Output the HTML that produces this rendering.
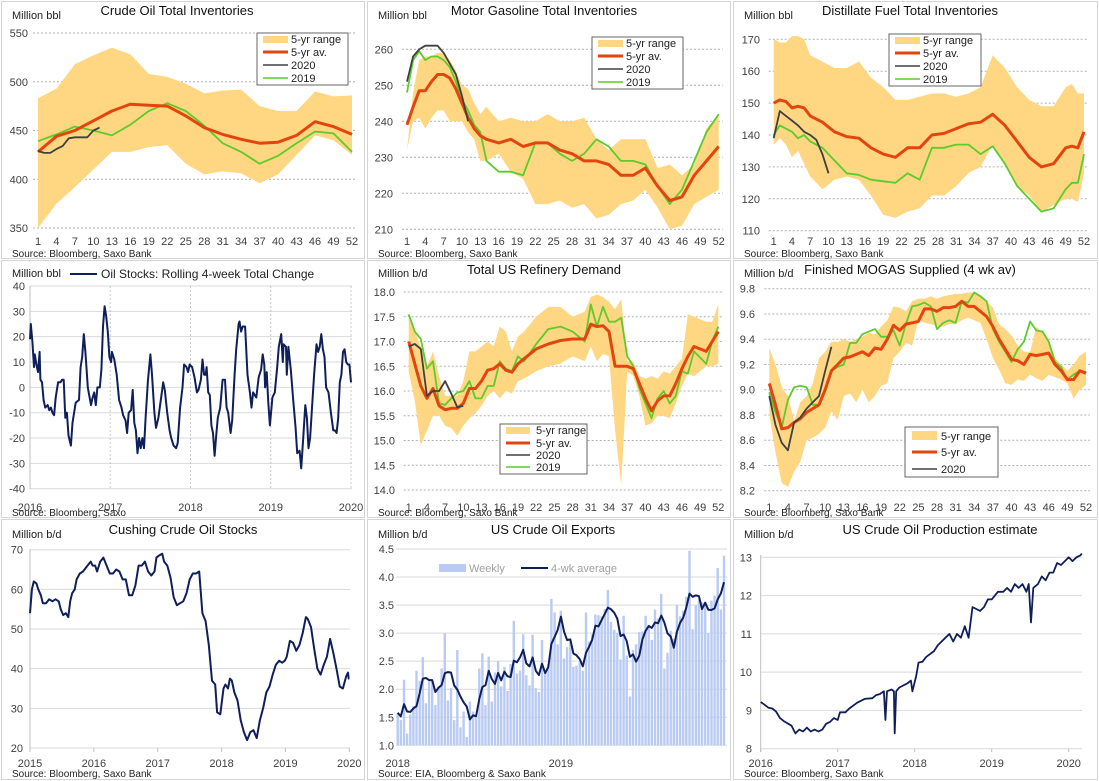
<!DOCTYPE html>
<html><head><meta charset="utf-8"><style>
html,body{margin:0;padding:0;background:#fff}
svg{display:block;font-family:"Liberation Sans",sans-serif}
.t{font-size:13px;fill:#111;text-anchor:middle}
.u{font-size:11px;fill:#222}
.s{font-size:10px;fill:#222}
.lg{font-size:11px;fill:#222}
</style></head><body>
<svg id="c" width="1099" height="781" viewBox="0 0 1099 781">
<rect x="0" y="0" width="1099" height="781" fill="#fff"/>
<g fill="none" stroke="#d4d4d4" stroke-width="1">
<rect x="1.5" y="1.5" width="363" height="257"/>
<rect x="367.5" y="1.5" width="363" height="257"/>
<rect x="733.5" y="1.5" width="364" height="257"/>
<rect x="1.5" y="260.5" width="363" height="257"/>
<rect x="367.5" y="260.5" width="363" height="257"/>
<rect x="733.5" y="260.5" width="364" height="257"/>
<rect x="1.5" y="519.5" width="363" height="260"/>
<rect x="367.5" y="519.5" width="363" height="260"/>
<rect x="733.5" y="519.5" width="364" height="260"/>
</g>
<g id="marks"></g>
<text class="t" x="177" y="15">Crude Oil Total Inventories</text>
<text class="t" x="544" y="15">Motor Gasoline Total Inventories</text>
<text class="t" x="910" y="15">Distillate Fuel Total Inventories</text>
<text class="t" x="544" y="274">Total US Refinery Demand</text>
<text class="t" x="910" y="274">Finished MOGAS Supplied (4 wk av)</text>
<text class="t" x="183" y="534">Cushing Crude Oil Stocks</text>
<text class="t" x="553" y="534">US Crude Oil Exports</text>
<text class="t" x="940" y="534">US Crude Oil Production estimate</text>
<text class="u" x="12" y="19">Million bbl</text>
<text class="u" x="378" y="19">Million bbl</text>
<text class="u" x="744" y="19">Million bbl</text>
<text class="u" x="12" y="277">Million bbl</text>
<text class="u" x="378" y="277">Million b/d</text>
<text class="u" x="744" y="277">Million b/d</text>
<text class="u" x="12" y="538">Million b/d</text>
<text class="u" x="378" y="538">Million  b/d</text>
<text class="u" x="744" y="538">Million b/d</text>
<text class="s" x="12" y="257">Source: Bloomberg, Saxo Bank</text>
<text class="s" x="378" y="257">Source: Bloomberg, Saxo Bank</text>
<text class="s" x="744" y="257">Source: Bloomberg, Saxo Bank</text>
<text class="s" x="12" y="516">Source: Bloomberg, Saxo</text>
<text class="s" x="378" y="516">Source: Bloomberg, Saxo Bank</text>
<text class="s" x="744" y="516">Source: Bloomberg, Saxo Bank</text>
<text class="s" x="12" y="777">Source: Bloomberg, Saxo Bank</text>
<text class="s" x="378" y="777">Source: EIA, Bloomberg &amp; Saxo Bank</text>
<text class="s" x="744" y="777">Source: Bloomberg, Saxo Bank</text>

<g>
<rect x="257" y="33" width="91" height="52" fill="#fff" stroke="#666"/>
<rect x="263" y="36" width="25" height="7" fill="#ffd681"/>
<line x1="263" y1="52" x2="288" y2="52" stroke="#e2450f" stroke-width="3"/>
<line x1="263" y1="65" x2="288" y2="65" stroke="#404040" stroke-width="1.6"/>
<line x1="263" y1="78" x2="288" y2="78" stroke="#5ccc2c" stroke-width="1.6"/>
<text class="lg" x="291" y="43">5-yr range</text>
<text class="lg" x="291" y="56">5-yr av.</text>
<text class="lg" x="291" y="69">2020</text>
<text class="lg" x="291" y="82">2019</text>
</g>
<g>
<rect x="592" y="37" width="91" height="52" fill="#fff" stroke="#666"/>
<rect x="598" y="40" width="25" height="7" fill="#ffd681"/>
<line x1="598" y1="56" x2="623" y2="56" stroke="#e2450f" stroke-width="3"/>
<line x1="598" y1="69" x2="623" y2="69" stroke="#404040" stroke-width="1.6"/>
<line x1="598" y1="82" x2="623" y2="82" stroke="#5ccc2c" stroke-width="1.6"/>
<text class="lg" x="626" y="47">5-yr range</text>
<text class="lg" x="626" y="60">5-yr av.</text>
<text class="lg" x="626" y="73">2020</text>
<text class="lg" x="626" y="86">2019</text>
</g>
<g>
<rect x="889" y="34" width="92" height="52" fill="#fff" stroke="#666"/>
<rect x="895" y="37" width="25" height="7" fill="#ffd681"/>
<line x1="895" y1="53" x2="920" y2="53" stroke="#e2450f" stroke-width="3"/>
<line x1="895" y1="66" x2="920" y2="66" stroke="#404040" stroke-width="1.6"/>
<line x1="895" y1="79" x2="920" y2="79" stroke="#5ccc2c" stroke-width="1.6"/>
<text class="lg" x="923" y="44">5-yr range</text>
<text class="lg" x="923" y="57">5-yr av.</text>
<text class="lg" x="923" y="70">2020</text>
<text class="lg" x="923" y="83">2019</text>
</g>
<g>
<rect x="500" y="424" width="87" height="50" fill="#fff" stroke="#666"/>
<rect x="506" y="427" width="24" height="7" fill="#ffd681"/>
<line x1="506" y1="443" x2="530" y2="443" stroke="#e2450f" stroke-width="3"/>
<line x1="506" y1="455" x2="530" y2="455" stroke="#404040" stroke-width="1.6"/>
<line x1="506" y1="467" x2="530" y2="467" stroke="#5ccc2c" stroke-width="1.6"/>
<text class="lg" x="536" y="434">5-yr range</text>
<text class="lg" x="536" y="447">5-yr av.</text>
<text class="lg" x="536" y="459">2020</text>
<text class="lg" x="536" y="471">2019</text>
</g>
<g>
<rect x="905" y="427" width="93" height="50" fill="#fff" stroke="#666"/>
<rect x="912" y="431" width="25" height="9" fill="#ffd681"/>
<line x1="912" y1="452" x2="937" y2="452" stroke="#e2450f" stroke-width="3"/>
<line x1="912" y1="469" x2="937" y2="469" stroke="#404040" stroke-width="1.6"/>
<text class="lg" x="941" y="440">5-yr range</text>
<text class="lg" x="941" y="456">5-yr av.</text>
<text class="lg" x="941" y="473">2020</text>
</g>
<g>
<line x1="70" y1="274" x2="97" y2="274" stroke="#0f1f5a" stroke-width="2"/>
<text class="lg" x="101" y="278" style="font-size:12px">Oil Stocks: Rolling 4-week Total Change</text>
</g>
<g>
<rect x="439" y="564" width="27" height="8" fill="#b9cbf2"/>
<text class="lg" x="469" y="572" style="fill:#a0a0a0">Weekly</text>
<line x1="521" y1="568" x2="548" y2="568" stroke="#0f1f5a" stroke-width="2"/>
<text class="lg" x="551" y="572" style="fill:#a0a0a0">4-wk average</text>
</g>
</svg>
<script>
// ---------- DATA ----------
const crudeWeeks=[1,4,7,10,13,16,19,22,25,28,31,34,37,40,43,46,49,52];
const crudeUpper=[483,493,518,527,535,528,508,505,498,488,491,492,475,470,470,490,485,486];
const crudeLower=[350,375,392,410,428,428,433,435,416,405,408,406,396,405,425,445,440,425];
const crudeAvg=[428,444,450,460,470,477,476,475,465,453,446,441,437,438,445,459,454,446];
const crude2019=[439,446,454,450,445,456,470,478,470,455,437,428,416,424,437,449,447,428];
const crude2020=[429,427,427,431,434,442,443,443,443,450,453];

const gasWeeks=[1,2,3,4,5,6,7,8,9,10,11,12,13,14,16,18,20,22,24,26,28,30,32,34,36,38,40,42,44,46,48,50,52];
const gasUpper=[232,248,257,258,258,259,259,257,254,250,249,245,242,244,240,241,240,240,242,240,240,241,235,232,235,235,235,227,228,225,228,238,242];
const gasLower=[232,240,241,238,241,243,243,240,240,240,237,235,229,229,231,226,224,217,217,218,216,217,213,214,217,218,221,216,210,211,217,219,221];
const gasAvg=[239,244,248.5,248.5,251,253,253,252,249,245,241,238,236,235,234,235,233,234,234,232,231,229,229,228,225,225,227,222,218,219,225,229,233];
const gas2019=[248,257,259.5,257,258,258,257,255,251,246,243,239,237,229,226,226,225,234,234,231,229,231,235,233,229,229,228,222,217,221,229,237,242];
const gas2020=[251,258,260,261,261,261,259,256,253,247,240];

const distWeeks=[1,2,3,4,5,6,7,9,11,13,15,17,19,21,23,25,27,29,31,33,35,37,39,41,43,45,47,49,50,51,52];
const distUpper=[170,169,169,171,171,170,165,163,161,161,163,158,155,151,151,152,153,153,152,153,155,165,161,155,151,149,149,155,156,153,153];
const distLower=[137,139,137,133,135,131,127,123,126,127,126,121,115,114,116,117,121,121,124,128,130,137,131,124,121,116,118,120,120,119,128];
const distAvg=[150,151,150.5,148.5,149,148.5,146,144,141,139.5,139,136,134,133,136,136,140,140.5,142,143.5,144,146.5,143,138,133,130,131,136,136.5,136,141];
const dist2019=[140,143,142,141,139,140,138,136,132,128,127.5,126,125.5,125,128,126,136,136,137,137,134,136.5,131,124,120,116,117,123,125,125,134];
const dist2020=[139,147.5,146,144.5,143,141,140,138.5,134,128];

const refWeeks=[1,2,3,4,5,6,7,8,9,10,11,12,13,14,15,16,17,18,19,20,22,24,26,28,30,31,32,33,34,35,36,37,38,39,40,41,42,43,44,45,46,47,48,50,51,52];
const refUpper=[17.5,17.2,16.9,16.5,16.8,16.3,15.9,15.9,15.9,16.2,16.8,16.8,16.9,17.0,16.9,17.3,17.2,16.8,17.1,17.2,17.5,17.7,17.7,17.5,17.6,17.9,17.95,17.9,17.8,17.65,17.85,16.6,16.6,16.3,16.25,16.3,16.25,16.4,16.35,16.5,16.65,17.55,17.5,17.4,17.4,17.75];
const refLower=[16.4,15.8,14.9,15.2,15.5,15.5,15.3,15.25,15.1,15.3,15.45,15.55,15.7,15.9,16.0,15.85,16.0,15.95,16.2,16.25,16.4,16.5,16.55,16.7,16.6,16.9,16.6,16.75,16.7,15.2,14.1,16.4,16.3,15.9,15.3,15.35,15.5,15.5,15.45,15.75,16.1,16.35,16.3,16.5,16.5,16.55];
const refAvg=[17.0,16.55,16.1,15.85,16.05,15.7,15.62,15.65,15.65,15.75,16.05,16.05,16.2,16.42,16.45,16.55,16.42,16.38,16.55,16.65,16.85,16.95,17.02,17.05,17.05,17.35,17.3,17.32,17.2,16.5,16.5,16.5,16.45,16.15,15.85,15.6,15.8,15.9,15.9,16.15,16.45,16.7,16.9,16.8,17.0,17.2];
const ref2019=[17.55,17.2,17.05,16.45,16.6,15.75,15.72,15.85,15.97,16.0,16.2,15.85,15.85,16.1,16.1,16.6,16.45,16.4,16.7,16.6,16.95,17.25,17.3,17.2,17.0,17.75,17.3,17.7,17.4,17.4,17.48,16.7,16.5,16.05,15.75,15.45,15.85,16.0,15.75,15.9,16.4,16.35,16.8,16.55,17.0,17.3];
const ref2020=[16.9,16.95,16.85,15.9,16.0,16.0,16.2,15.95,15.67,15.7];

const mogUpper=[9.33,9.2,9.02,8.95,8.75,8.9,8.95,9.05,9.25,9.3,9.38,9.38,9.4,9.38,9.4,9.42,9.45,9.44,9.5,9.55,9.66,9.65,9.62,9.7,9.72,9.72,9.74,9.72,9.74,9.75,9.76,9.76,9.77,9.77,9.75,9.7,9.65,9.52,9.48,9.43,9.35,9.3,9.3,9.5,9.45,9.4,9.25,9.2,9.15,9.2,9.27,9.3];
const mogLower=[8.8,8.5,8.26,8.23,8.35,8.43,8.6,8.62,8.65,8.7,8.83,8.76,8.95,8.97,8.9,9.0,8.9,8.95,9.03,9.05,9.25,9.3,9.37,9.35,9.55,9.53,9.52,9.5,9.5,9.52,9.52,9.55,9.57,9.55,9.53,9.4,9.25,9.16,9.05,9.04,9.08,9.07,9.12,9.09,9.07,9.12,9.1,9.08,9.05,8.93,9.0,9.04];
const mogAvg=[9.05,8.88,8.69,8.7,8.74,8.77,8.82,8.85,8.88,9.0,9.15,9.2,9.25,9.26,9.28,9.3,9.27,9.33,9.32,9.4,9.51,9.47,9.52,9.53,9.54,9.64,9.64,9.62,9.65,9.65,9.66,9.7,9.66,9.66,9.62,9.58,9.5,9.4,9.32,9.24,9.23,9.2,9.28,9.27,9.28,9.29,9.2,9.15,9.08,9.08,9.15,9.13];
const mog2019=[8.98,8.82,8.7,8.92,9.02,9.03,9.02,8.88,8.88,9.0,9.15,9.18,9.2,9.37,9.37,9.44,9.46,9.48,9.42,9.42,9.47,9.35,9.52,9.66,9.67,9.69,9.66,9.48,9.53,9.55,9.53,9.7,9.69,9.77,9.74,9.7,9.48,9.38,9.3,9.22,9.32,9.38,9.54,9.47,9.46,9.38,9.22,9.18,9.08,9.12,9.15,9.14];
const mog2020=[8.95,8.72,8.58,8.52,8.74,8.78,8.85,8.9,8.95,9.15,9.34];

const weekTicks=[1,4,7,10,13,16,19,22,25,28,31,34,37,40,43,46,49,52];

const stockDates=[2016.0,2016.01,2016.03,2016.05,2016.06,2016.08,2016.10,2016.12,2016.13,2016.15,2016.17,2016.19,2016.22,2016.24,2016.26,2016.28,2016.30,2016.32,2016.35,2016.38,2016.40,2016.42,2016.44,2016.46,2016.48,2016.51,2016.53,2016.57,2016.61,2016.63,2016.65,2016.67,2016.69,2016.72,2016.76,2016.78,2016.80,2016.82,2016.84,2016.87,2016.89,2016.91,2016.93,2016.95,2016.97,2016.99,
2017.01,2017.02,2017.05,2017.08,2017.11,2017.14,2017.16,2017.19,2017.21,2017.23,2017.26,2017.28,2017.30,2017.32,2017.34,2017.36,2017.38,2017.40,2017.42,2017.44,2017.47,2017.50,2017.52,2017.55,2017.57,2017.60,2017.63,2017.66,2017.68,2017.71,2017.74,2017.76,2017.79,2017.82,2017.84,2017.87,2017.90,2017.92,2017.95,2017.97,2017.99,
2018.02,2018.05,2018.08,2018.10,2018.13,2018.15,2018.17,2018.19,2018.20,2018.22,2018.24,2018.26,2018.28,2018.30,2018.32,2018.34,2018.37,2018.40,2018.43,2018.45,2018.47,2018.50,2018.52,2018.55,2018.57,2018.60,2018.61,2018.63,2018.65,2018.68,2018.71,2018.74,2018.76,2018.78,2018.80,2018.82,2018.85,2018.88,2018.90,2018.92,2018.93,2018.95,2018.97,2018.99,
2019.02,2019.05,2019.08,2019.10,2019.13,2019.15,2019.16,2019.19,2019.20,2019.22,2019.25,2019.28,2019.31,2019.33,2019.36,2019.38,2019.40,2019.43,2019.45,2019.47,2019.49,2019.51,2019.54,2019.57,2019.59,2019.61,2019.63,2019.65,2019.67,2019.69,2019.72,2019.75,2019.78,2019.80,2019.82,2019.84,2019.86,2019.88,2019.90,2019.92,2019.94,2019.96,2019.98,2020.0];
const stockValues=[19,25,18,8,13,9,6,14,3,2,-5,-8,-7,-9,-8,-10,-11,-4,2,2,3,3,-12,-10,-19,-23,-14,-6,-5,8,12,21,14,0,-7,-4,-2,-7,0,0,7,24,32,28,22,12,
10,14,11,5,-5,-8,-11,-13,-18,-10,-9,-1,-14,-17,-26,-20,-24,-20,-24,-12,3,13,5,-10,-16,-12,-5,2,-1,-10,-17,-20,-23,-24,-22,-8,0,9,8,6,9,
8,4,-2,-1,3,11,5,5,8,-2,-3,-15,-18,-27,-19,-12,-8,3,3,-8,-10,-18,-13,5,15,25,26,22,24,24,5,-2,-8,-2,-3,-4,4,7,13,9,0,6,-6,-15,
-4,-2,8,16,21,10,17,16,5,16,7,-5,-16,-26,-25,-32,-22,-7,-12,-24,-20,-10,5,17,14,16,21,15,12,0,-2,-10,-17,-17,-18,-12,2,5,14,15,10,9,9,2];
const stockTicks=[40,30,20,10,0,-10,-20,-30,-40];
const stockYears=[2016,2017,2018,2019,2020];

const cushDates=[2015.0,2015.03,2015.06,2015.1,2015.13,2015.17,2015.2,2015.25,2015.3,2015.35,2015.4,2015.45,2015.48,2015.52,2015.56,2015.6,2015.63,2015.66,2015.7,2015.73,2015.78,2015.83,2015.9,2015.95,2015.98,
2016.02,2016.05,2016.1,2016.15,2016.2,2016.25,2016.3,2016.35,2016.4,2016.45,2016.5,2016.55,2016.6,2016.65,2016.7,2016.75,2016.8,2016.85,2016.9,2016.95,2016.98,
2017.02,2017.07,2017.1,2017.15,2017.2,2017.25,2017.3,2017.35,2017.4,2017.45,2017.5,2017.55,2017.6,2017.65,2017.7,2017.75,2017.8,2017.85,2017.9,2017.93,2017.98,
2018.03,2018.06,2018.1,2018.13,2018.16,2018.2,2018.25,2018.3,2018.35,2018.4,2018.45,2018.5,2018.55,2018.6,2018.65,2018.7,2018.75,2018.8,2018.85,2018.9,2018.95,2018.99,
2019.02,2019.07,2019.12,2019.17,2019.22,2019.27,2019.32,2019.35,2019.4,2019.45,2019.5,2019.55,2019.6,2019.65,2019.7,2019.75,2019.8,2019.85,2019.9,2019.95,2019.98,2019.99,2020.0];
const cushValues=[54,60,62,61.5,60,58.5,56.5,56.5,57.5,57,57.5,57,55,53.5,54,53,57,59,60,62.5,64,64.5,66,67,66,
66,64.5,67,68,66,64,64,65,64.5,62.5,62.5,58.5,58.5,61,66,66,67,64.5,63.5,64.5,68,
68.5,69,67,66,63,58,56,56.5,57,59,62.5,64,64,64.5,54,52,46,37,36,29,28.5,
35,36,35,37.5,37,34,32,27,24,22,24,24.5,22.5,27,30,34,35.5,38.5,41,42,41.5,42,
43,47,46.5,44.5,46,49,53,52.5,50.5,45,40,38.5,41,43,47.5,44,40,35.5,35,38,39,37.5,37.5];
const cushTicks=[70,60,50,40,30,20];
const cushYears=[2015,2016,2017,2018,2019,2020];

const expWeekly=[1.58,1.45,2.17,1.21,1.55,1.7,2.33,2.15,2.57,1.75,
2.18,2.15,1.72,2.05,2.37,3.0,1.8,2.02,1.45,2.7,
1.32,1.6,1.15,1.78,1.6,1.55,2.37,2.64,1.72,2.58,
1.78,2.3,2.5,2.05,2.4,1.97,2.45,3.22,2.28,2.33,
2.98,2.25,2.07,2.97,2.02,1.95,2.88,2.3,2.45,3.61,
3.37,2.8,3.4,2.55,2.75,2.85,2.4,2.42,2.48,2.33,
3.37,2.85,2.98,3.33,3.32,3.3,3.43,3.77,3.2,3.06,
3.0,2.53,3.31,2.6,1.87,2.7,2.8,3.02,3.03,3.31,
3.15,2.88,3.42,3.26,3.7,2.37,2.65,3.04,2.9,3.5,
3.3,3.4,3.65,4.47,3.07,3.5,3.6,3.55,3.52,3.0,
3.58,3.67,4.16,3.42,4.38];
const expTicks=[4.5,4.0,3.5,3.0,2.5,2.0,1.5,1.0];
const expYearLabels=["2018","2019"];
const expYearIndex=[0,52];

const prodDates=[2016.0,2016.05,2016.1,2016.15,2016.2,2016.25,2016.3,2016.4,2016.45,2016.5,2016.55,2016.6,2016.65,2016.7,2016.75,2016.8,2016.85,2016.9,2016.95,
2017.0,2017.03,2017.1,2017.15,2017.25,2017.35,2017.45,2017.5,2017.55,2017.6,2017.62,2017.64,2017.7,2017.73,2017.74,2017.76,2017.8,2017.9,2017.95,2017.97,
2018.02,2018.05,2018.1,2018.15,2018.25,2018.3,2018.35,2018.4,2018.45,2018.5,2018.55,2018.6,2018.65,2018.7,2018.75,2018.8,2018.85,2018.9,2018.95,
2019.0,2019.08,2019.15,2019.2,2019.25,2019.3,2019.35,2019.4,2019.45,2019.48,2019.51,2019.54,2019.6,2019.65,2019.7,2019.75,2019.8,2019.85,2019.9,2019.95,
2020.0,2020.05,2020.1,2020.15,2020.17];
const prodValues=[9.22,9.15,9.07,9.05,8.97,8.8,8.72,8.6,8.4,8.5,8.45,8.55,8.45,8.5,8.45,8.5,8.65,8.7,8.8,
8.75,8.95,8.95,9.05,9.2,9.3,9.32,9.4,9.43,9.5,8.75,9.5,9.55,9.5,8.4,9.5,9.6,9.7,9.78,9.5,
9.9,10.25,10.27,10.4,10.55,10.7,10.8,10.9,11.0,10.8,11.0,10.9,11.2,10.9,11.7,11.65,11.6,11.7,11.9,
11.9,12.1,12.1,12.2,12.1,12.3,12.2,12.3,12.1,12.3,11.3,12.2,12.3,12.5,12.4,12.6,12.6,12.85,12.8,12.9,
13.0,12.9,13.0,13.05,13.1];
const prodTicks=[13,12,11,10,9,8];
const prodYears=[2016,2017,2018,2019,2020];

// ---------- DRAWING ----------
const NS='http://www.w3.org/2000/svg';
const G=document.getElementById('marks');
function lin(d0,d1,r0,r1){return v=>r0+(v-d0)*(r1-r0)/(d1-d0);}
function mk(tag,attrs,name){
  const e=document.createElementNS(NS,tag);
  for(const k in attrs) e.setAttribute(k,attrs[k]);
  
  
  G.appendChild(e);return e;
}
function pathD(xs,ys,X,Y){return xs.map((x,i)=>(i?'L':'M')+X(x).toFixed(1)+','+Y(ys[i]).toFixed(1)).join('');}
function txt(x,y,s,anchor,name,size,fill){
  const t=mk('text',{x:x,y:y,'text-anchor':anchor,'font-size':size||11,fill:fill||'#333'},name);
  t.textContent=s;return t;
}
function hgrid(ticks,Y,x0,x1,labelX,dash,name,fmt){
  ticks.forEach(v=>{
    const a={x1:x0,x2:x1,y1:Y(v),y2:Y(v),stroke:dash?'#b0b0b0':'#d9d9d9','stroke-width':1};
    if(dash) a['stroke-dasharray']='2,2';
    mk('line',a,name+'-gridline');
    txt(labelX,Y(v)+4,fmt?fmt(v):String(v),'end',name+'-y-tick-label',11,'#404040');
  });
}
function weeklyPanel(name,weeks,up,lo,avg,y19,y20,weeks20,X,Y,ticks,labelX,fmt,xLabY){
  hgrid(ticks,Y,X(1)-5,X(52)+4,labelX,true,name,fmt);
  const poly=weeks.map((w,i)=>X(w).toFixed(1)+','+Y(up[i]).toFixed(1)).concat(weeks.slice().reverse().map((w,i)=>X(w).toFixed(1)+','+Y(lo[lo.length-1-i]).toFixed(1)));
  mk('polygon',{points:poly.join(' '),fill:'#ffd681',stroke:'none'},name+'-5yr-range');
  if(y19) mk('path',{d:pathD(weeks,y19,X,Y),fill:'none',stroke:'#5ccc2c','stroke-width':1.8,'stroke-linejoin':'round'},name+'-line-2019');
  mk('path',{d:pathD(weeks,avg,X,Y),fill:'none',stroke:'#e2450f','stroke-width':3,'stroke-linejoin':'round'},name+'-line-5yr-avg');
  mk('path',{d:pathD(weeks20,y20,X,Y),fill:'none',stroke:'#404040','stroke-width':1.8,'stroke-linejoin':'round'},name+'-line-2020');
  weekTicks.forEach(w=>txt(X(w),xLabY,String(w),'middle',name+'-x-tick-label',11,'#404040'));
}
const w20=n=>Array.from({length:n},(_,i)=>i+1);

weeklyPanel('crude',crudeWeeks,crudeUpper,crudeLower,crudeAvg,crude2019,crude2020,w20(crude2020.length),
  lin(1,52,38,352),lin(350,550,228,33),[550,500,450,400,350],28,null,245);
weeklyPanel('gasoline',gasWeeks,gasUpper,gasLower,gasAvg,gas2019,gas2020,w20(gas2020.length),
  lin(1,52,407,718.7),lin(210,260,229.3,49.3),[260,250,240,230,220,210],393,null,245);
weeklyPanel('distillate',distWeeks,distUpper,distLower,distAvg,dist2019,dist2020,w20(dist2020.length),
  lin(1,52,773.7,1084),lin(110,170,230.7,39.3),[170,160,150,140,130,120,110],760,null,245);
weeklyPanel('refinery',refWeeks,refUpper,refLower,refAvg,ref2019,ref2020,w20(ref2020.length),
  lin(1,52,408.7,718.3),lin(14,18,490,292),[18,17.5,17,16.5,16,15.5,15,14.5,14],395,v=>v.toFixed(1),511);
const mogWeeks=w20(52);
weeklyPanel('mogas',mogWeeks,mogUpper,mogLower,mogAvg,mog2019,mog2020,w20(mog2020.length),
  lin(1,52,769.3,1086),lin(8.2,9.8,490.7,288.7),[9.8,9.6,9.4,9.2,9.0,8.8,8.6,8.4,8.2],755,v=>v.toFixed(1),511);

(function(){
  const X=lin(2016,2020,30,351),Y=lin(-40,40,488.7,286);
  stockTicks.forEach(v=>{
    mk('line',{x1:30,x2:352,y1:Y(v),y2:Y(v),stroke:'#d9d9d9'},'oilstocks-gridline');
    txt(25,Y(v)+4,String(v),'end','oilstocks-y-tick-label',11,'#404040');
  });
  stockYears.forEach((yr,i)=>{
    mk('line',{x1:X(yr),x2:X(yr),y1:286,y2:489,stroke:i===0?'#bfbfbf':'#c8c8c8','stroke-dasharray':i===0?'':'2,2'},'oilstocks-year-gridline');
    txt(X(yr),511,String(yr),'middle','oilstocks-x-tick-label',11,'#404040');
  });
  mk('path',{d:pathD(stockDates,stockValues,X,Y),fill:'none',stroke:'#0f1f5a','stroke-width':2,'stroke-linejoin':'round'},'oilstocks-line');
})();

(function(){
  const X=lin(2015,2020,30,349.3),Y=lin(20,70,748,549.7);
  cushTicks.forEach(v=>{
    mk('line',{x1:30,x2:350,y1:Y(v),y2:Y(v),stroke:'#d9d9d9'},'cushing-gridline');
    txt(23,Y(v)+4,String(v),'end','cushing-y-tick-label',11,'#404040');
  });
  mk('line',{x1:30,x2:30,y1:549,y2:752,stroke:'#bfbfbf'},'cushing-y-axis');
  cushYears.forEach(yr=>{
    mk('line',{x1:X(yr),x2:X(yr),y1:748,y2:752,stroke:'#bfbfbf'},'cushing-x-tick');
    txt(X(yr),767,String(yr),'middle','cushing-x-tick-label',11,'#404040');
  });
  mk('path',{d:pathD(cushDates,cushValues,X,Y),fill:'none',stroke:'#0f1f5a','stroke-width':2,'stroke-linejoin':'round'},'cushing-line');
})();

(function(){
  const X=lin(0,104,397.7,724),Y=lin(1,4.5,745.3,549);
  expTicks.forEach(v=>{
    mk('line',{x1:396,x2:727,y1:Y(v),y2:Y(v),stroke:'#d9d9d9'},'exports-gridline');
    txt(394,Y(v)+4,v.toFixed(1),'end','exports-y-tick-label',11,'#404040');
  });
  expWeekly.forEach((v,i)=>{
    mk('rect',{x:(X(i)-1.2).toFixed(1),y:Y(v).toFixed(1),width:2.4,height:(Y(1)-Y(v)).toFixed(1),fill:'#b9cbf2'},'exports-weekly-bar');
  });
  const idx=expWeekly.map((_,i)=>i);
  const avg=expWeekly.map((_,i)=>{const s=expWeekly.slice(Math.max(0,i-3),i+1);return s.reduce((a,b)=>a+b,0)/s.length;});
  mk('path',{d:pathD(idx,avg,X,Y),fill:'none',stroke:'#0f1f5a','stroke-width':2,'stroke-linejoin':'round'},'exports-4wk-avg-line');
  expYearLabels.forEach((s,i)=>txt(X(expYearIndex[i]),767,s,'middle','exports-x-tick-label',11,'#404040'));
})();

(function(){
  const X=lin(2016,2020,760.7,1068.7),Y=lin(8,13,748.7,557.3);
  prodTicks.forEach(v=>{
    mk('line',{x1:761,x2:1082,y1:Y(v),y2:Y(v),stroke:'#d9d9d9'},'production-gridline');
    txt(752,Y(v)+4,String(v),'end','production-y-tick-label',11,'#404040');
  });
  mk('line',{x1:760.7,x2:760.7,y1:555,y2:752,stroke:'#bfbfbf'},'production-y-axis');
  prodYears.forEach(yr=>{
    mk('line',{x1:X(yr),x2:X(yr),y1:748.7,y2:752,stroke:'#bfbfbf'},'production-x-tick');
    txt(X(yr),767,String(yr),'middle','production-x-tick-label',11,'#404040');
  });
  mk('path',{d:pathD(prodDates,prodValues,X,Y),fill:'none',stroke:'#0f1f5a','stroke-width':1.8,'stroke-linejoin':'round'},'production-line');
})();
</script>
</body></html>
